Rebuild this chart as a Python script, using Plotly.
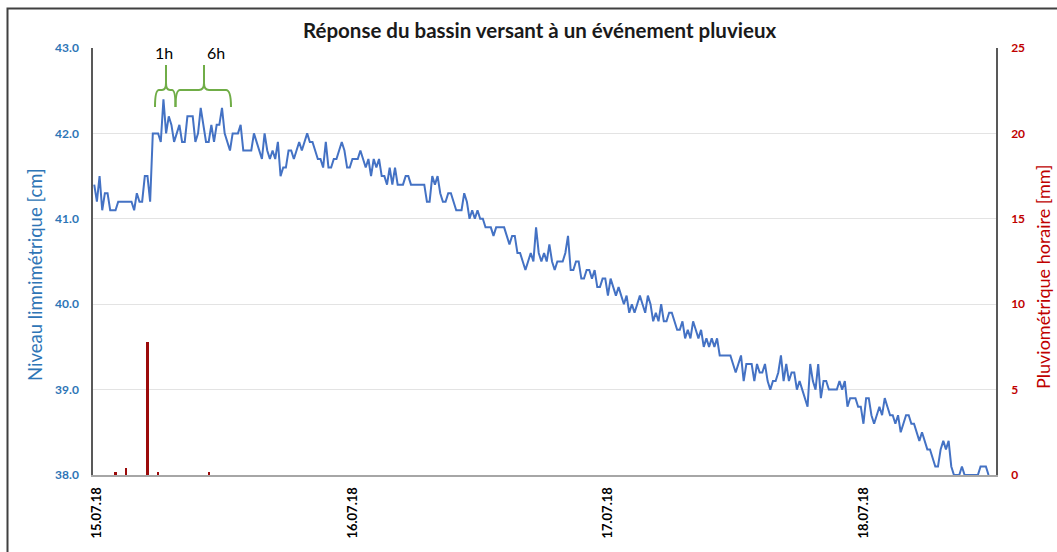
import plotly.graph_objects as go
import pandas as pd

# ---------------- data ----------------
niveau_cm = [
    # 14.07 23:45 -> 15.07 13:45
    41.4, 41.2, 41.5, 41.1, 41.3, 41.3, 41.1, 41.1, 41.1, 41.2, 41.2, 41.2, 41.2, 41.2, 41.2, 41.1,
    41.3, 41.2, 41.2, 41.5, 41.5, 41.2, 42.0, 42.0, 42.0, 41.9, 42.4, 42.0, 42.2, 42.1, 41.9, 42.0,
    42.1, 41.9, 41.9, 42.2, 42.2, 42.2, 41.9, 42.0, 42.3, 42.1, 41.9, 41.9, 42.1, 41.9, 42.1, 42.1,
    42.3, 42.0, 41.9, 41.8, 42.0, 42.0, 42.0, 42.1, 41.8,
    41.8, 41.8, 41.8, 42.0, 41.9, 41.8, 41.7, 42.0, 41.8, 41.7, 41.8, 41.7, 41.9, 41.5, 41.6, 41.6,
    41.8, 41.8, 41.7, 41.8, 41.9, 41.8, 41.9, 42.0, 41.9, 41.9, 41.8, 41.7, 41.7, 41.6, 41.9, 41.6,
    41.6, 41.7, 41.7, 41.8, 41.9, 41.8, 41.6, 41.6, 41.7, 41.7, 41.7, 41.8, 41.7, 41.6, 41.7, 41.5,
    41.7, 41.6, 41.7, 41.5, 41.5, 41.4, 41.6, 41.4, 41.6,
    41.4, 41.4, 41.4, 41.5, 41.5, 41.4, 41.4, 41.4, 41.4, 41.4, 41.4, 41.2, 41.2, 41.5, 41.4, 41.5,
    41.3, 41.2, 41.2, 41.3, 41.3, 41.2, 41.1, 41.1, 41.1, 41.3, 41.2, 41.0, 41.1, 41.0, 41.1, 41.0,
    41.0, 40.9, 40.9, 40.9, 40.8, 40.9, 40.9, 40.9, 40.9, 40.8, 40.7, 40.8, 40.8, 40.6, 40.6, 40.5,
    40.4, 40.5, 40.6, 40.5, 40.9, 40.6, 40.5, 40.6,
    40.5, 40.7, 40.5, 40.4, 40.5, 40.5, 40.5, 40.6, 40.8, 40.4, 40.4, 40.5, 40.5, 40.3, 40.3, 40.4,
    40.4, 40.3, 40.4, 40.2, 40.2, 40.3, 40.3, 40.1, 40.3, 40.2, 40.1, 40.2, 40.1, 40.0, 40.1, 39.9,
    40.0, 39.9, 40.0, 40.1, 40.0, 39.9, 40.1, 40.0, 39.8, 39.9, 39.8, 40.0, 39.8, 39.8, 39.9, 39.9,
    39.8, 39.7, 39.7, 39.8, 39.6, 39.7, 39.6, 39.8,
    39.7, 39.6, 39.7, 39.5, 39.6, 39.5, 39.6, 39.5, 39.6, 39.4, 39.4, 39.4, 39.4, 39.4, 39.3, 39.2,
    39.3, 39.4, 39.1, 39.3, 39.3, 39.3, 39.1, 39.3, 39.2, 39.2, 39.3, 39.1, 39.0, 39.1, 39.1, 39.2,
    39.4, 39.1, 39.3, 39.1, 39.2, 39.2, 39.0, 39.1, 39.0, 38.9, 38.8, 39.3, 39.1, 39.0, 39.3, 38.9,
    39.1, 39.1, 39.0, 39.0, 39.0, 39.0, 39.1, 39.0,
    39.1, 38.8, 38.9, 38.9, 38.9, 38.8, 38.8, 38.6, 38.9, 38.9, 38.7, 38.6, 38.7, 38.8, 38.7, 38.9,
    38.8, 38.7, 38.7, 38.6, 38.7, 38.5, 38.6, 38.7, 38.7, 38.6, 38.6, 38.5, 38.4, 38.5, 38.4, 38.3,
    38.3, 38.2, 38.1, 38.1, 38.3, 38.4, 38.3, 38.4, 38.1, 38.0, 38.0, 38.0, 38.1, 38.0, 38.0, 38.0,
    38.0, 38.0, 38.0, 38.1, 38.1, 38.1, 38.0,
]
debut_mesures = "2018-07-14 23:45"
pas_mesures = "15min"

pluie_heures = ["2018-07-15 01:45", "2018-07-15 02:45", "2018-07-15 04:45",
                "2018-07-15 05:45", "2018-07-15 10:30"]
pluie_mm = [0.2, 0.4, 7.8, 0.2, 0.2]

jours = ["2018-07-15", "2018-07-16", "2018-07-17", "2018-07-18"]
jours_labels = ["15.07.18", "16.07.18", "17.07.18", "18.07.18"]
y1_ticks = [38.0, 39.0, 40.0, 41.0, 42.0, 43.0]
y2_ticks = [0, 5, 10, 15, 20, 25]

titre = "Réponse du bassin versant à un événement pluvieux"
titre_y1 = "Niveau limnimétrique [cm]"
titre_y2 = "Pluviométrique horaire [mm]"
etiquettes_durees = ["1h", "6h"]

# ---------------- figure ----------------
W, H = 1057, 552
L, R, T, B = 93, 61, 48, 77
PW, PH = W - L - R, H - T - B

def px(x, y):
    return f"{(x - L) / PW:.5f},{(H - B - y) / PH:.5f}"

temps = pd.date_range(debut_mesures, periods=len(niveau_cm), freq=pas_mesures)

BLUE_LINE = "#4472C4"
BLUE_TXT = "#2E75B6"
RED_TXT = "#C00000"
RED_BAR = "#9B0A0A"
GREEN = "#70AD47"
FONT = "Lato"

fig = go.Figure()
fig.add_trace(go.Scatter(x=temps, y=niveau_cm, mode="lines",
                         line=dict(color=BLUE_LINE, width=2), yaxis="y", showlegend=False))
fig.add_trace(go.Bar(x=pd.to_datetime(pluie_heures), y=pluie_mm, yaxis="y2",
                     marker=dict(color=RED_BAR, line=dict(width=0)),
                     width=12 * 60 * 1000, showlegend=False))

fig.update_layout(
    width=W, height=H,
    margin=dict(l=L, r=R, t=T, b=B, autoexpand=False),
    paper_bgcolor="white", plot_bgcolor="white",
    font=dict(family=FONT, color="black"),
    bargap=0,
    xaxis=dict(type="date", range=["2018-07-14 23:38", "2018-07-18 12:27"],
               tickvals=pd.to_datetime(jours), ticktext=jours_labels, tickangle=-90,
               tickfont=dict(size=13, color="black", family=FONT, weight="bold"),
               showgrid=False, showline=True, linecolor="#A6A6A6", linewidth=2,
               ticks="", ticklabelstandoff=5, zeroline=False),
    yaxis=dict(range=[38, 43], tickvals=y1_ticks, tickformat=".1f",
               tickfont=dict(size=12, color=BLUE_TXT, family=FONT, weight="bold"),
               showgrid=True, gridcolor="#E3E3E3", gridwidth=1,
               showline=True, linecolor="#595959", linewidth=1.5,
               ticks="", ticklabelstandoff=10, zeroline=False),
    yaxis2=dict(range=[0, 25], tickvals=y2_ticks, overlaying="y", side="right",
                tickfont=dict(size=12, color=RED_TXT, family=FONT, weight="bold"),
                showgrid=False, showline=True, linecolor="#595959", linewidth=1.5,
                ticks="", ticklabelstandoff=11, zeroline=False),
)

annotations = [
    dict(text=f"<b>{titre}</b>", x=(539 - L) / PW, y=(H - B - 30) / PH, xref="paper", yref="paper",
         showarrow=False, xanchor="center", yanchor="middle", font=dict(size=20.5, color="#1a1a1a")),
    dict(text=titre_y1, x=(35 - L) / PW, y=(H - B - 275) / PH, xref="paper", yref="paper",
         textangle=-90, showarrow=False, xanchor="center", yanchor="middle",
         font=dict(size=18.5, color=BLUE_TXT)),
    dict(text=titre_y2, x=(1043 - L) / PW, y=(H - B - 277) / PH, xref="paper", yref="paper",
         textangle=-90, showarrow=False, xanchor="center", yanchor="middle",
         font=dict(size=18, color=RED_TXT)),
    dict(text=etiquettes_durees[0], x=(164 - L) / PW, y=(H - B - 52) / PH, xref="paper", yref="paper",
         showarrow=False, xanchor="center", yanchor="middle", font=dict(size=16, color="black")),
    dict(text=etiquettes_durees[1], x=(216 - L) / PW, y=(H - B - 52) / PH, xref="paper", yref="paper",
         showarrow=False, xanchor="center", yanchor="middle", font=dict(size=16, color="black")),
]
fig.update_layout(annotations=annotations)

brace1 = (f"M {px(155,107)} Q {px(155,90)} {px(159,90)} L {px(162,90)} Q {px(166,90)} {px(166,83)} "
          f"L {px(166,65)} M {px(166,83)} Q {px(166,90)} {px(170,90)} L {px(172,90)} "
          f"Q {px(175.5,90)} {px(175.5,107)}")
brace2 = (f"M {px(175.5,107)} Q {px(175.5,90)} {px(180,90)} L {px(199,90)} Q {px(204,90)} {px(204,83)} "
          f"L {px(204,65)} M {px(204,83)} Q {px(204,90)} {px(209,90)} L {px(226,90)} "
          f"Q {px(231,90)} {px(231,107)}")
shapes = [
    dict(type="path", path=brace1, xref="paper", yref="paper", line=dict(color=GREEN, width=2)),
    dict(type="path", path=brace2, xref="paper", yref="paper", line=dict(color=GREEN, width=2)),
    dict(type="rect", xref="paper", yref="paper",
         x0=(7.5 - L) / PW, x1=(1065 - L) / PW, y0=(H - B - 565) / PH, y1=(H - B - 8.5) / PH,
         line=dict(color="#404040", width=2), fillcolor="rgba(0,0,0,0)", layer="above"),
]
fig.update_layout(shapes=shapes)

fig.write_html("out.html", config={"displayModeBar": False},
               post_script="document.body.style.margin='0px';document.body.style.overflow='hidden';")
